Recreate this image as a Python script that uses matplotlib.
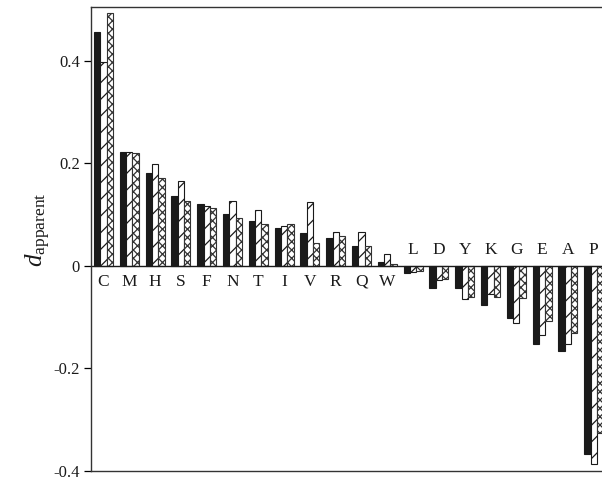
import numpy as np
import matplotlib
matplotlib.use("Agg")
import matplotlib.pyplot as plt

plt.rcParams["font.family"] = ["Liberation Serif", "DejaVu Serif"]
plt.rcParams["mathtext.fontset"] = "custom"
plt.rcParams["mathtext.rm"] = "Liberation Serif"
plt.rcParams["mathtext.it"] = "Liberation Serif:italic"
plt.rcParams["hatch.linewidth"] = 0.9

residues = ["C", "M", "H", "S", "F", "N", "T", "I", "V", "R",
            "Q", "W", "L", "D", "Y", "K", "G", "E", "A", "P"]
series_solid = [0.457, 0.222, 0.181, 0.137, 0.121, 0.102, 0.087, 0.074, 0.065, 0.054,
                0.039, 0.008, -0.014, -0.044, -0.044, -0.076, -0.101, -0.153, -0.165, -0.366]
series_diag = [0.397, 0.222, 0.198, 0.165, 0.116, 0.127, 0.109, 0.078, 0.124, 0.066,
               0.066, 0.023, -0.012, -0.027, -0.065, -0.055, -0.111, -0.135, -0.153, -0.386]
series_cross = [0.493, 0.220, 0.172, 0.127, 0.112, 0.094, 0.081, 0.081, 0.044, 0.059,
                0.038, 0.003, -0.009, -0.026, -0.060, -0.060, -0.062, -0.107, -0.131, -0.325]
yticks = [-0.4, -0.2, 0, 0.2, 0.4]
ytick_labels = ["-0.4", "-0.2", "0", "0.2", "0.4"]

fig = plt.figure(figsize=(6.02, 4.78), dpi=100)
ax = fig.add_axes([91 / 602, 1 - 471 / 478, 1 - 91 / 602, (471 - 7) / 478])

x = np.arange(len(residues))
w = 0.245
ax.bar(x - w, series_solid, w, color="#1a1a1a", edgecolor="#1a1a1a", lw=0.8)
ax.bar(x, series_diag, w, color="white", edgecolor="#1a1a1a", lw=0.8, hatch="//")
ax.bar(x + w, series_cross, w, color="white", edgecolor="#333333", lw=0.8, hatch="xxxx")

ax.axhline(0, color="#1a1a1a", lw=1.0)

# residue letters sit on the opposite side of the zero line from the bars
for xi, name, v in zip(x, residues, series_solid):
    off = -11.5 if v > 0 else 11.5
    ax.annotate(name, (xi, 0), xytext=(0, off), textcoords="offset points",
                ha="center", va="center", fontsize=12.5, color="#1a1a1a")

ax.set_xlim(-0.485, 19.32)
ax.set_ylim(-0.4, 0.505)
ax.set_xticks([])
ax.set_yticks(yticks)
ax.set_yticklabels(ytick_labels, fontsize=12, color="#1a1a1a")
ax.tick_params(axis="y", direction="out", length=5, width=0.9, pad=3)

for side in ["left", "top", "bottom"]:
    ax.spines[side].set_color("#333333")
    ax.spines[side].set_linewidth(1.0)
ax.spines["right"].set_visible(False)

fig.text(38 / 602, 1 - 230 / 478, r"$d_{\mathrm{apparent}}$", rotation=90,
         ha="center", va="center", fontsize=18, color="#1a1a1a")

fig.savefig("out.png", dpi=100)
